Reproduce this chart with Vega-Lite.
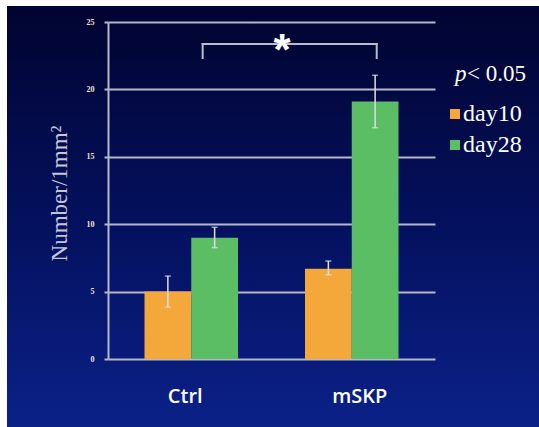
{
  "$schema": "https://vega.github.io/schema/vega-lite/v6.json",
  "autosize": {"type": "none"},
  "padding": {"left": 7, "top": 6, "right": 0, "bottom": 0},
  "width": 532,
  "height": 421,
  "background": "white",
  "config": {
    "view": {
      "stroke": null,
      "fill": {
        "gradient": "linear",
        "x1": 0, "y1": 0, "x2": 0, "y2": 1,
        "stops": [
          {"offset": 0, "color": "#010430"},
          {"offset": 0.5, "color": "#04105c"},
          {"offset": 1, "color": "#0b2188"}
        ]
      }
    }
  },
  "datasets": {
    "counts": [
      {"group": "Ctrl", "day": "day10", "value": 5.0, "lo": 3.86, "hi": 6.15},
      {"group": "Ctrl", "day": "day28", "value": 9.0, "lo": 8.26, "hi": 9.77},
      {"group": "mSKP", "day": "day10", "value": 6.7, "lo": 6.25, "hi": 7.27},
      {"group": "mSKP", "day": "day28", "value": 19.1, "lo": 17.16, "hi": 21.05}
    ],
    "bracket": [{"from": "Ctrl", "to": "mSKP", "top": 23.37, "foot": 22.33}]
  },
  "data": {"name": "counts"},
  "encoding": {
    "x": {
      "field": "group",
      "type": "nominal",
      "sort": ["Ctrl", "mSKP"],
      "scale": {"range": [101, 428], "paddingInner": 0.4174, "paddingOuter": 0.2274},
      "axis": {
        "title": null,
        "orient": "bottom",
        "offset": -68,
        "domain": false,
        "ticks": false,
        "grid": false,
        "labelAngle": 0,
        "labelFont": "Open Sans",
        "labelFontSize": 20,
        "labelFontWeight": 600,
        "labelColor": "white",
        "labelPadding": 27,
        "labelOffset": {"condition": {"test": "datum.value === 'Ctrl'", "value": -6}, "value": 8}
      }
    },
    "y": {
      "field": "value",
      "type": "quantitative",
      "scale": {"domain": [0, 25], "nice": false, "range": [353, 16]},
      "axis": {
        "title": "Number/1mm²",
        "values": [0, 5, 10, 15, 20, 25],
        "offset": -101,
        "grid": true,
        "gridColor": "#b4b8c8",
        "gridWidth": 2,
        "domainColor": "#b4b8c8",
        "domainWidth": 2,
        "tickColor": "#b4b8c8",
        "tickWidth": 2,
        "tickSize": 4,
        "labelFont": "Liberation Serif",
        "labelFontSize": 8,
        "labelFontWeight": "bold",
        "labelColor": "#ece6d2",
        "labelPadding": 10,
        "titleFont": "Liberation Serif",
        "titleFontSize": 23,
        "titleFontWeight": "normal",
        "titleColor": "#c2c6d6",
        "titleX": -49,
        "titleY": 187,
        "titleBaseline": "middle"
      }
    }
  },
  "layer": [
    {
      "mark": {"type": "bar"},
      "encoding": {
        "xOffset": {"field": "day", "type": "nominal", "scale": {"paddingInner": 0, "paddingOuter": 0}},
        "color": {
          "field": "day",
          "type": "nominal",
          "scale": {"domain": ["day10", "day28"], "range": ["#f4a83a", "#5cbe64"]},
          "legend": {
            "orient": "none",
            "legendX": 436,
            "legendY": 96,
            "title": null,
            "symbolType": "square",
            "symbolSize": 100,
            "symbolStrokeWidth": 0,
            "symbolOpacity": 1,
            "labelFont": "Liberation Serif",
            "labelFontSize": 24,
            "labelFontWeight": "normal",
            "labelColor": "white",
            "labelOffset": -4,
            "rowPadding": 7
          }
        }
      }
    },
    {
      "mark": {"type": "rule", "color": "#dcdee8", "strokeWidth": 1.5},
      "encoding": {
        "xOffset": {"field": "day", "type": "nominal"},
        "y": {"field": "lo", "type": "quantitative"},
        "y2": {"field": "hi"}
      }
    },
    {
      "mark": {"type": "tick", "color": "#dcdee8", "size": 6, "thickness": 1.5},
      "encoding": {
        "xOffset": {"field": "day", "type": "nominal"},
        "y": {"field": "lo", "type": "quantitative"}
      }
    },
    {
      "mark": {"type": "tick", "color": "#dcdee8", "size": 6, "thickness": 1.5},
      "encoding": {
        "xOffset": {"field": "day", "type": "nominal"},
        "y": {"field": "hi", "type": "quantitative"}
      }
    },
    {
      "data": {"name": "bracket"},
      "mark": {"type": "rule", "color": "#b9bccb", "strokeWidth": 2, "strokeCap": "square"},
      "encoding": {
        "x": {"field": "from", "type": "nominal", "bandPosition": 0.622},
        "x2": {"field": "to", "bandPosition": 0.767},
        "y": {"field": "top", "type": "quantitative"}
      }
    },
    {
      "data": {"name": "bracket"},
      "mark": {"type": "rule", "color": "#b9bccb", "strokeWidth": 2, "strokeCap": "square"},
      "encoding": {
        "x": {"field": "from", "type": "nominal", "bandPosition": 0.622},
        "y": {"field": "foot", "type": "quantitative"},
        "y2": {"field": "top"}
      }
    },
    {
      "data": {"name": "bracket"},
      "mark": {"type": "rule", "color": "#b9bccb", "strokeWidth": 2, "strokeCap": "square"},
      "encoding": {
        "x": {"field": "to", "type": "nominal", "bandPosition": 0.767},
        "y": {"field": "foot", "type": "quantitative"},
        "y2": {"field": "top"}
      }
    },
    {
      "transform": [{"filter": "datum.group === 'Ctrl' && datum.day === 'day28'"}],
      "mark": {"type": "text", "text": "*", "font": "Liberation Sans", "fontSize": 44, "fontWeight": "bold", "color": "white", "baseline": "alphabetic", "dy": 25},
      "encoding": {
        "x": {"field": "group", "type": "nominal", "bandPosition": 1.47},
        "y": {"datum": 23.66, "type": "quantitative"}
      }
    },
    {
      "transform": [{"filter": "datum.group === 'mSKP' && datum.day === 'day28'"}],
      "mark": {"type": "text", "text": "p", "font": "Liberation Serif", "fontSize": 23, "fontStyle": "italic", "color": "white", "align": "left", "baseline": "alphabetic"},
      "encoding": {
        "x": {"field": "group", "type": "nominal", "bandPosition": 1.604},
        "y": {"datum": 20.62, "type": "quantitative"}
      }
    },
    {
      "transform": [{"filter": "datum.group === 'mSKP' && datum.day === 'day28'"}],
      "mark": {"type": "text", "text": "< 0.05", "font": "Liberation Serif", "fontSize": 23, "color": "white", "align": "left", "baseline": "alphabetic"},
      "encoding": {
        "x": {"field": "group", "type": "nominal", "bandPosition": 1.733},
        "y": {"datum": 20.62, "type": "quantitative"}
      }
    }
  ]
}
